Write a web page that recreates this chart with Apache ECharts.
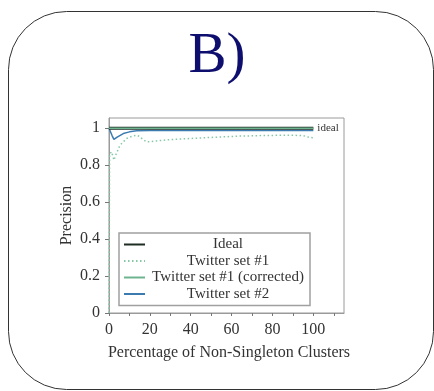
<!DOCTYPE html>
<html>
<head>
<meta charset="utf-8">
<style>
  html, body { margin: 0; padding: 0; background: #ffffff; }
  #chart { width: 434px; height: 391px; }
</style>
<script src="https://cdn.jsdelivr.net/npm/echarts@6/dist/echarts.min.js"></script>
</head>
<body>
<div id="chart"></div>
<script>
// Precision vs. percentage of non-singleton clusters
var seriesNames = ['Ideal', 'Twitter set #1', 'Twitter set #1 (corrected)', 'Twitter set #2'];

var idealX = [0, 100];
var idealY = [1, 1];

var set1X = [0, 0.3, 1.3, 2.4, 3.5, 5.4, 8.6, 11, 13.5, 15, 16.5, 18.4, 21, 23.2, 30, 39.5, 50, 64, 75, 88, 95, 98, 100];
var set1Y = [0, 0.86, 0.872, 0.827, 0.86, 0.908, 0.944, 0.955, 0.962, 0.955, 0.94, 0.926, 0.928, 0.931, 0.938, 0.944, 0.95, 0.957, 0.96, 0.962, 0.96, 0.95, 0.948];

var correctedX = [0, 100];
var correctedY = [1, 1];

var set2X = [0, 0.5, 1.5, 2.4, 4, 7, 10, 13.5, 20, 40, 60, 80, 100];
var set2Y = [1, 1, 0.96, 0.939, 0.952, 0.971, 0.98, 0.986, 0.987, 0.987, 0.987, 0.987, 0.987];

var xTicks = [0, 20, 40, 60, 80, 100];
var yTicks = [0, 0.2, 0.4, 0.6, 0.8, 1];

function pairs(xs, ys) {
  return xs.map(function (x, i) { return [x, ys[i]]; });
}

var serif = '"Liberation Serif", "DejaVu Serif", serif';
var chart = echarts.init(document.getElementById('chart'), null, { renderer: 'canvas' });

chart.setOption({
  animation: false,
  backgroundColor: '#ffffff',
  title: {
    text: 'B)',
    left: 'center',
    top: 24,
    textStyle: { fontFamily: serif, fontSize: 57, fontWeight: 'normal', color: '#0e0e6e' }
  },
  graphic: [{
    type: 'rect',
    silent: true,
    shape: { x: 8.5, y: 11.5, width: 425, height: 378, r: 58 },
    style: { fill: 'none', stroke: '#333333', lineWidth: 1 }
  }],
  grid: {
    left: 109, right: 90, top: 118, bottom: 78,
    show: true, borderColor: '#9a9a9a', borderWidth: 1, backgroundColor: 'transparent'
  },
  legend: {
    orient: 'vertical',
    left: 119, top: 233,
    width: 187,
    padding: [4, 4, 4, 4],
    itemGap: 1.5,
    itemWidth: 21,
    itemHeight: 10,
    borderColor: '#a0a0a0',
    borderWidth: 1.5,
    itemStyle: { opacity: 0, borderWidth: 0 },
    data: seriesNames,
    textStyle: {
      fontFamily: serif, fontSize: 15, color: '#333333',
      rich: { c: { width: 156, align: 'center', fontFamily: serif, fontSize: 15, color: '#333333', lineHeight: 16 } }
    },
    formatter: function (name) { return '{c|' + name + '}'; }
  },
  xAxis: {
    type: 'value',
    min: 0, max: 115, interval: 10,
    name: 'Percentage of Non-Singleton Clusters',
    nameLocation: 'middle',
    nameGap: 32,
    nameMoveOverlap: false,
    nameTextStyle: { fontFamily: serif, fontSize: 16, color: '#333333', padding: [0, 0, 0, 5] },
    axisLine: { show: true, lineStyle: { color: '#9a9a9a', width: 1 } },
    axisTick: { show: true, length: 3, lineStyle: { color: '#777777' } },
    splitLine: { show: false },
    axisLabel: {
      fontFamily: serif, fontSize: 16, color: '#333333', margin: 9,
      showMaxLabel: false,
      formatter: function (v) { return xTicks.indexOf(Math.round(v)) >= 0 && Math.abs(v - Math.round(v)) < 1e-6 ? String(Math.round(v)) : ''; }
    }
  },
  yAxis: {
    type: 'value',
    min: 0, max: 1.055, interval: 0.2,
    name: 'Precision',
    nameLocation: 'middle',
    nameGap: 34,
    nameMoveOverlap: false,
    nameTextStyle: { fontFamily: serif, fontSize: 16, color: '#333333' },
    axisLine: { show: true, lineStyle: { color: '#9a9a9a', width: 1 } },
    axisTick: { show: true, length: 4, lineStyle: { color: '#777777' } },
    splitLine: { show: false },
    axisLabel: {
      fontFamily: serif, fontSize: 16, color: '#333333', margin: 9,
      showMaxLabel: false,
      formatter: function (v) {
        for (var i = 0; i < yTicks.length; i++) {
          if (Math.abs(v - yTicks[i]) < 1e-6) return yTicks[i] === 0 ? '0' : yTicks[i] === 1 ? '1' : yTicks[i].toFixed(1);
        }
        return '';
      }
    }
  },
  series: [
    {
      name: seriesNames[0], type: 'line', showSymbol: false, symbol: 'none', z: 3,
      data: pairs(idealX, idealY),
      lineStyle: { color: '#1e2d24', width: 3 },
      itemStyle: { color: '#1e2d24' },
      endLabel: { show: true, formatter: 'ideal', fontFamily: serif, fontSize: 11, color: '#333333', distance: 4 }
    },
    {
      name: seriesNames[1], type: 'line', showSymbol: false, symbol: 'none', z: 2,
      data: pairs(set1X, set1Y),
      lineStyle: { color: '#86c8a6', width: 1.5, type: [1.5, 2.5] },
      itemStyle: { color: '#86c8a6' }
    },
    {
      name: seriesNames[2], type: 'line', showSymbol: false, symbol: 'none', z: 4,
      data: pairs(correctedX, correctedY),
      lineStyle: { color: '#6db48f', width: 1.5 },
      itemStyle: { color: '#6db48f' }
    },
    {
      name: seriesNames[3], type: 'line', showSymbol: false, symbol: 'none', z: 2,
      data: pairs(set2X, set2Y),
      lineStyle: { color: '#3b7bb0', width: 1.5 },
      itemStyle: { color: '#3b7bb0' }
    }
  ]
});
</script>
</body>
</html>
